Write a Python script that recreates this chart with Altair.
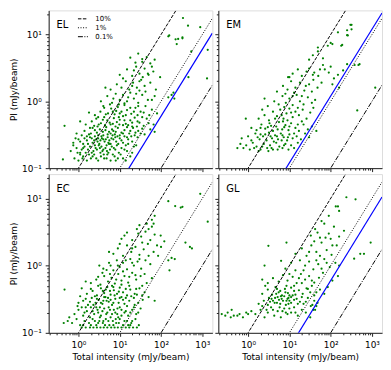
import altair as alt
import pandas as pd

# ---------------- data ----------------
PANELS = ["EL", "EM", "EC", "GL"]

EL_PTS = [
    (0.42,0.135),(0.8,0.14),(1.0,0.13),(1.3,0.15),(1.6,0.13),(2.0,0.14),(2.4,0.16),(3.0,0.13),(3.5,0.15),(4.2,0.14),
    (5.0,0.16),(6.0,0.13),(7.5,0.15),(9.0,0.14),(12,0.14),(14,0.13),(18,0.15),(1.1,0.16),(2.7,0.14),
    (0.65,0.18),(0.9,0.2),(1.1,0.17),(1.4,0.21),(1.7,0.19),(2.1,0.17),(2.6,0.2),(3.1,0.22),(3.8,0.18),(4.5,0.2),
    (5.3,0.17),(6.4,0.21),(7.8,0.19),(9.5,0.17),(11,0.2),(15,0.18),(22,0.21),(1.2,0.19),(2.3,0.18),(3.4,0.17),
    (5.8,0.19),(8.5,0.22),(0.75,0.22),(1.9,0.21),(4.0,0.19),
    (0.75,0.24),(1.0,0.27),(1.3,0.23),(1.6,0.26),(1.9,0.29),(2.2,0.24),(2.7,0.27),(3.2,0.23),(3.7,0.28),(4.3,0.25),
    (5.1,0.29),(6.0,0.23),(7.0,0.27),(8.2,0.25),(10,0.28),(12,0.24),(16,0.27),(20,0.25),(27,0.29),(2.5,0.3),
    (4.8,0.22),(13,0.3),(1.1,0.25),(2.9,0.25),(5.6,0.26),(9.2,0.23),
    (0.9,0.33),(1.4,0.36),(1.8,0.32),(2.2,0.4),(2.8,0.34),(3.3,0.38),(4.0,0.31),(4.7,0.41),(5.5,0.35),(6.5,0.38),
    (7.6,0.32),(9.0,0.4),(11,0.34),(13,0.37),(17,0.33),(21,0.4),(28,0.36),(40,0.32),(55,0.38),(3.6,0.3),
    (8.0,0.35),(0.46,0.43),(1.2,0.31),(2.5,0.37),(6.0,0.33),(15,0.41),(35,0.39),(70,0.35),
    (1.5,0.45),(2.1,0.5),(2.7,0.55),(3.5,0.47),(4.2,0.58),(5.0,0.52),(6.0,0.45),(7.2,0.56),(8.5,0.49),(10,0.53),
    (12,0.6),(14,0.46),(18,0.52),(23,0.57),(30,0.48),(45,0.55),(66,0.45),(2.4,0.43),(1.1,0.5),(3.9,0.53),
    (16,0.44),(38,0.43),(9.5,0.58),
    (2.5,0.62),(3.4,0.7),(4.0,0.85),(5.2,0.66),(6.2,0.78),(7.5,0.64),(9.0,0.82),(11,0.7),(13,0.88),(15,0.74),
    (19,0.65),(24,0.8),(32,0.7),(42,0.85),(60,0.75),(1.8,0.68),(5.8,0.9),(8.2,0.72),(27,0.62),(80,0.66),
    (3.5,1.0),(5.0,1.2),(6.5,0.95),(8.0,1.3),(10,1.05),(12,1.25),(15,1.0),(18,1.35),(22,1.1),(28,0.95),
    (35,1.25),(48,1.05),(70,1.2),(150,1.15),(180,1.25),(210,1.1),(200,1.35),(13,0.93),
    (6.0,1.5),(8.5,1.8),(11,1.6),(14,2.0),(17,1.5),(21,1.9),(26,1.6),(33,2.1),(40,1.7),(55,1.9),
    (75,1.5),(4.5,1.6),(12,2.2),(30,1.45),
    (10,2.5),(15,3.0),(20,2.4),(25,3.3),(30,2.6),(40,3.1),(50,2.5),(65,2.8),(95,2.3),(460,2.3),(1300,2.2),(36,2.3),
    (18,4.5),(28,5.2),(35,3.9),(45,4.6),(55,3.7),(24,3.8),(70,4.2),(540,5.6),(1350,5.9),
    (150,9.4),(225,8.5),(240,7.2),(330,8.8),(340,17.7),(450,13.6),(890,12.9),(158,9.7),(260,8.6),(330,9.1),
    (1.5,0.17),(2.8,0.19),(3.6,0.21),(4.9,0.18),(6.8,0.16),(1.7,0.23),(2.4,0.26),(3.4,0.26),(4.6,0.27),(6.3,0.28),
    (7.8,0.29),(11,0.26),(14,0.22),(1.6,0.3),(2.0,0.33),(3.0,0.31),(3.9,0.35),(5.1,0.32),(7.0,0.36),(10,0.31),
    (12,0.44),(2.9,0.42),(4.4,0.44),(5.7,0.48),(7.9,0.42),(0.85,0.28),(0.95,0.17),(1.25,0.14),(2.2,0.15),(4.8,0.14),
    (8.0,0.13),(24,0.34),(19,0.3),(20,0.48),(26,0.42),
    (1.3,0.2),(1.8,0.16),(2.5,0.22),(3.3,0.2),(4.1,0.16),(5.5,0.23),(7.2,0.2),(10.5,0.16),(13,0.19),(16,0.23),
    (20,0.17),(25,0.22),(1.4,0.28),(2.1,0.28),(3.0,0.28),(4.0,0.27),(5.3,0.24),(6.7,0.31),(8.8,0.3),(12,0.33),
    (15,0.29),(18,0.36),(23,0.31),(32,0.33),(1.9,0.4),(3.1,0.45),(4.5,0.37),(6.8,0.46),(9.8,0.45),(13,0.52),
    (20,0.42),(27,0.5),(35,0.58),(50,0.47),(3.0,0.58),(4.6,0.64),(6.8,0.7),(10,0.66),(14,0.62),(18,0.8),
    (22,0.7),(28,0.85),(38,0.68),(52,0.62),(4.2,0.8),(7,1.1),(9.5,0.9),(16,1.15),(25,1.3),(42,1.4),
    (60,1.05),(20,1.7),(30,2.0),(48,2.6),(22,2.9),(35,4.3),(60,3.3),
]

EM_PTS = [
    (0.55,0.2),(0.77,0.2),(0.9,0.22),(1.1,0.19),(1.3,0.24),(1.6,0.21),(2.0,0.19),(2.4,0.23),(2.9,0.2),(3.4,0.22),
    (4.0,0.19),(4.8,0.24),(5.7,0.21),(6.8,0.2),(8.0,0.23),(9.5,0.19),(11,0.22),(13,0.2),(16,0.24),(1.8,0.18),
    (3.1,0.18),(0.65,0.23),
    (0.7,0.28),(1.0,0.3),(1.2,0.26),(1.5,0.33),(1.9,0.27),(2.3,0.3),(2.8,0.26),(3.2,0.34),(3.8,0.28),(4.5,0.31),
    (5.3,0.27),(6.2,0.33),(7.3,0.29),(8.8,0.26),(10,0.32),(12,0.28),(15,0.3),(19,0.27),(24,0.33),(30,0.29),
    (2.0,0.32),(4.2,0.25),(6.5,0.26),
    (1.2,0.4),(1.6,0.37),(2.1,0.45),(2.6,0.39),(3.3,0.47),(4.0,0.36),(4.8,0.42),(5.6,0.49),(6.7,0.38),(8.0,0.44),
    (9.5,0.37),(11,0.47),(14,0.4),(17,0.36),(22,0.45),(28,0.38),(35,0.42),(45,0.36),(0.88,0.55),(3.0,0.41),(7.0,0.5),
    (1.8,0.55),(2.5,0.62),(3.2,0.52),(4.0,0.7),(5.0,0.6),(6.0,0.75),(7.2,0.55),(8.5,0.66),(10,0.78),(12,0.58),
    (14,0.7),(17,0.62),(21,0.75),(26,0.55),(32,0.68),(38,0.8),(440,0.73),(2.2,0.75),(9.0,0.52),
    (3.0,0.85),(4.3,1.0),(5.5,0.9),(6.8,1.2),(8.2,0.95),(10,1.1),(12,0.88),(15,1.25),(18,1.0),(22,0.9),
    (28,1.15),(35,0.95),(42,1.05),(2.5,1.1),(7.5,0.82),
    (5,1.4),(7,1.7),(9,1.5),(11,2.0),(14,1.6),(18,1.9),(23,1.45),(30,1.8),(38,2.1),(48,1.6),
    (60,1.9),(110,1.8),(160,1.6),(1200,1.6),(13,1.35),
    (9.3,2.3),(10,2.3),(12,2.6),(16,3.0),(20,2.4),(26,2.8),(37,2.5),(50,2.4),(65,3.5),(72,3.0),
    (90,2.7),(120,2.2),(150,2.5),(250,3.6),(380,3.5),(470,3.5),(500,3.6),(200,2.9),(100,3.3),
    (37,4.9),(49,6.4),(85,6.8),(100,7.5),(180,6.8),(190,7.0),(110,7.2),(49,5.6),(65,4.4),(30,4.2),
    (250,9.8),(250,11.6),(300,14),(320,14),(320,12),(260,9.7),(150,10.8),
    (1.4,0.2),(2.2,0.21),(3.7,0.2),(5.2,0.19),(7.4,0.22),(1.7,0.29),(2.6,0.32),(3.5,0.3),(5.0,0.3),(6.8,0.31),
    (9.2,0.29),(13,0.33),(2.0,0.4),(3.6,0.43),(5.2,0.38),(7.5,0.41),(10,0.42),(16,0.45),(20,0.5),(4.5,0.55),
    (6.5,0.62),(11,0.68),(16,0.8),(8,1.3),(12,1.2),(20,1.2),(25,1.7),(35,1.4),(40,2.7),(55,3.0),(30,3.1),
]

EC_PTS = [
    (1.2,0.12),(1.5,0.12),(1.9,0.12),(2.3,0.12),(2.8,0.12),(3.4,0.12),(4.1,0.12),(5.0,0.12),(6.2,0.12),(7.5,0.12),
    (9.0,0.12),(11,0.12),(14,0.12),(17,0.12),(21,0.12),(26,0.12),(0.44,0.14),(0.55,0.15),
    (0.7,0.14),(0.9,0.16),(1.1,0.13),(1.4,0.15),(1.8,0.14),(2.2,0.16),(2.7,0.13),(3.2,0.15),(3.9,0.14),(4.6,0.16),
    (5.6,0.13),(6.8,0.15),(8.2,0.14),(10,0.16),(12,0.13),(15,0.15),(19,0.14),(24,0.16),(29,0.13),
    (0.8,0.19),(1.0,0.22),(1.3,0.18),(1.6,0.21),(2.0,0.24),(2.4,0.19),(2.9,0.22),(3.5,0.18),(4.2,0.23),(5.0,0.2),
    (6.0,0.17),(7.2,0.22),(8.7,0.19),(10,0.24),(13,0.2),(16,0.18),(20,0.22),(25,0.19),(32,0.23),(1.2,0.24),
    (3.0,0.2),(5.4,0.24),(9.2,0.17),
    (1.0,0.28),(1.3,0.3),(1.7,0.26),(2.1,0.33),(2.6,0.28),(3.1,0.31),(3.8,0.27),(4.5,0.34),(5.4,0.29),(6.5,0.26),
    (7.8,0.32),(9.4,0.28),(11,0.34),(13,0.27),(17,0.3),(22,0.33),(28,0.28),(36,0.31),(50,0.34),(70,0.3),
    (2.3,0.26),(4.8,0.3),
    (1.6,0.38),(2.2,0.42),(2.8,0.36),(3.5,0.46),(4.2,0.39),(5.0,0.48),(6.0,0.37),(7.2,0.43),(8.6,0.38),(10,0.47),
    (12,0.4),(15,0.36),(18,0.44),(23,0.38),(30,0.46),(40,0.4),(0.46,0.44),(1.2,0.46),(6.5,0.5),
    (2.0,0.55),(2.7,0.62),(3.4,0.52),(4.2,0.7),(5.2,0.58),(6.3,0.66),(7.6,0.54),(9.2,0.75),(11,0.6),(13,0.7),
    (16,0.56),(20,0.78),(25,0.62),(32,0.7),(45,0.55),(60,0.65),(1.5,0.58),(3.8,0.78),(160,0.85),
    (4.0,0.9),(5.5,1.1),(7.0,0.85),(8.5,1.2),(10,0.95),(12,1.1),(15,0.88),(18,1.25),(22,1.0),(27,1.15),
    (33,0.9),(42,1.2),(55,1.05),(150,1.2),(180,1.3),(215,1.25),(3.2,1.0),(4.8,0.86),
    (7,1.5),(9,1.8),(12,1.4),(15,2.0),(19,1.6),(24,1.9),(30,1.45),(38,1.75),(48,2.1),(66,1.6),
    (85,1.4),(100,1.9),(390,2.2),(500,1.9),(560,1.8),(5.5,1.6),(10,2.1),
    (11,2.5),(15,3.1),(20,2.4),(26,3.5),(33,2.7),(42,3.2),(55,2.4),(70,2.9),(98,2.8),(120,2.3),
    (45,4.2),(30,4.0),(60,3.8),(1350,4.5),(13,2.8),(66,4.2),(60,4.8),
    (150,9.1),(220,7.7),(300,7.3),(330,7.5),(890,11.7),(70,5.5),
    (1.4,0.2),(1.9,0.17),(2.5,0.15),(3.3,0.17),(4.4,0.13),(6.5,0.19),(8.0,0.16),(11,0.18),(1.9,0.29),(3.3,0.24),
    (4.0,0.3),(6.0,0.31),(7.0,0.28),(8.8,0.23),(12,0.31),(15,0.25),(2.5,0.35),(3.9,0.42),(9.5,0.41),(14,0.45),
    (5.8,0.42),(1.1,0.35),(0.95,0.25),(18,0.13),(23,0.26),(0.6,0.17),
    (1.3,0.13),(2.0,0.13),(3.0,0.14),(4.0,0.15),(5.3,0.15),(7.0,0.13),(9.5,0.14),(13,0.15),(16,0.13),(20,0.15),
    (1.5,0.24),(2.2,0.21),(2.7,0.24),(3.8,0.21),(4.7,0.19),(5.8,0.22),(7.8,0.2),(11,0.22),(14,0.21),(18,0.2),
    (22,0.24),(28,0.2),(1.5,0.32),(2.8,0.32),(3.5,0.28),(4.2,0.34),(5.2,0.33),(7.5,0.36),(10,0.33),(14,0.33),
    (19,0.35),(26,0.37),(35,0.36),(2.0,0.45),(3.0,0.5),(4.6,0.44),(7.0,0.48),(11,0.52),(17,0.5),(25,0.45),
    (35,0.5),(3.0,0.68),(5.8,0.75),(8.2,0.62),(12,0.82),(17,0.68),(24,0.72),(40,0.75),(6,1.0),(9,1.0),
    (14,1.2),(20,1.1),(30,1.25),(50,1.4),(20,1.8),(35,2.2),(28,3.0),(50,3.5),(80,2.0),
]

GL_PTS = [
    (0.23,0.19),(0.28,0.18),(0.32,0.2),(0.38,0.17),(0.4,0.22),(0.45,0.18),(0.55,0.18),(0.62,0.19),(0.9,0.2),(1.0,0.19),
    (0.75,0.17),(1.2,0.21),
    (1.5,0.19),(2.0,0.22),(2.5,0.17),(3.0,0.2),(3.6,0.24),(4.3,0.18),(5.2,0.21),(6.2,0.17),(7.5,0.23),(9.0,0.19),
    (11,0.2),(13,0.24),(16,0.18),(20,0.22),(25,0.2),(32,0.17),(2.2,0.25),(5.8,0.24),
    (1.8,0.27),(2.4,0.3),(3.0,0.26),(3.7,0.32),(4.4,0.28),(5.2,0.34),(6.0,0.27),(7.0,0.3),(8.2,0.26),(9.5,0.33),
    (11,0.28),(13,0.31),(16,0.27),(20,0.34),(25,0.29),(33,0.25),(40,0.3),(48,0.28),(3.4,0.29),(5.6,0.31),(10,0.3),
    (2.2,0.38),(3.0,0.44),(3.8,0.37),(4.6,0.48),(5.5,0.4),(6.6,0.36),(7.8,0.45),(9.2,0.39),(11,0.47),(14,0.37),
    (17,0.43),(21,0.38),(26,0.46),(32,0.4),(40,0.36),(55,0.44),(70,0.38),(85,0.48),(2.6,0.5),
    (3.0,0.55),(4.0,0.65),(5.5,0.58),(7.0,0.72),(9.0,0.6),(12,0.68),(15,0.55),(19,0.75),(24,0.62),(30,0.7),
    (40,0.56),(52,0.66),(65,0.78),(110,0.6),(150,0.7),(2.2,0.62),
    (2.5,1.0),(6.3,1.18),(8,0.9),(11,1.1),(14,0.85),(18,1.2),(24,1.0),(30,1.15),(38,0.88),(50,1.05),
    (70,1.25),(95,0.95),(130,1.1),(370,1.27),(160,1.0),
    (3.1,1.97),(8.5,2.2),(14,1.5),(20,1.8),(26,1.4),(34,2.0),(45,1.6),(60,2.2),(80,1.7),(105,1.45),
    (140,2.0),(520,1.5),(640,1.5),(930,2.2),(40,2.3),
    (33,2.8),(42,3.5),(55,2.6),(70,4.2),(90,3.0),(120,3.8),(160,2.7),(210,3.3),(60,4.6),(100,2.5),(48,3.1),
    (133,7.6),(150,7.6),(160,6.5),(240,10.4),(400,9.7),(90,5.5),
    (42,0.22),(36,0.26),(45,0.25),(38,0.22),
    (4,0.3),(5,0.28),(6.5,0.32),(7.5,0.35),(8.5,0.3),(9.5,0.27),(12,0.36),(4.8,0.38),(6,0.42),(8,0.4),(10,0.36),(13,0.42),
    (2.8,0.22),(4.0,0.22),(6.8,0.21),(8.2,0.2),(10,0.23),(14,0.2),(3.2,0.33),(4.5,0.33),(6.2,0.35),(9,0.32),
    (11,0.34),(15,0.32),(18,0.29),(22,0.27),(28,0.33),(5,0.45),(8.5,0.5),(13,0.5),(20,0.55),(28,0.45),
    (35,0.5),(45,0.4),(10,0.75),(17,0.65),(22,0.85),(35,0.6),(45,1.2),(60,0.9),(80,1.1),(30,1.6),
    (55,1.4),(75,2.6),(110,2.0),
]

POINTS = {"EL": EL_PTS, "EM": EM_PTS, "EC": EC_PTS, "GL": GL_PTS}

# reference lines PI = ratio * I
LINE_LABELS = ["10%", "1%", "0.1%"]
LINE_RATIOS = [0.1, 0.01, 0.001]
LINE_DASHES = [[3.5, 1.5], [1, 1.6], [5, 1.5, 1, 1.5]]
# blue fitted line ratio per panel (none in EC)
BLUE_RATIO = {"EL": 0.006, "EM": 0.012, "GL": 0.006}

X_DOMAIN = [0.19, 1750]
Y_DOMAIN = [0.1, 23]
X_TICKS = [0.2, 0.3, 0.4, 0.5, 0.6, 0.7, 0.8, 0.9,
           1, 2, 3, 4, 5, 6, 7, 8, 9,
           10, 20, 30, 40, 50, 60, 70, 80, 90,
           100, 200, 300, 400, 500, 600, 700, 800, 900, 1000]
Y_TICKS = [0.1, 0.2, 0.3, 0.4, 0.5, 0.6, 0.7, 0.8, 0.9,
           1, 2, 3, 4, 5, 6, 7, 8, 9, 10, 20]

X_TITLE = "Total intensity (mJy/beam)"
Y_TITLE = "PI (mJy/beam)"

FONT = "DejaVu Sans"
W, H = 165, 159
H2 = 160

LABEL_EXPR = ("datum.value == 0.1 ? '10⁻¹' : datum.value == 1 ? '10⁰' : "
              "datum.value == 10 ? '10¹' : datum.value == 100 ? '10²' : "
              "datum.value == 1000 ? '10³' : ''")
MAJOR_TEST = "abs(log(datum.value)/LN10 - round(log(datum.value)/LN10)) < 0.001"
TICK_SIZE = {"condition": {"test": MAJOR_TEST, "value": 3.5}, "value": 2}


def make_axis(ticks, show_labels, title, is_x):
    kw = dict(values=ticks, grid=False, tickSize=TICK_SIZE, tickColor="#222",
              domainColor="#222", labelOverlap=False, labelFlush=False,
              labelFont=FONT, labelFontSize=9, labelColor="black",
              titleFont=FONT, titleFontSize=9, titleFontWeight="normal", titleColor="black")
    if show_labels:
        kw.update(labelExpr=LABEL_EXPR, labelPadding=4 if is_x else 4, title=title,
                  titlePadding=3 if is_x else 3)
    else:
        kw.update(labels=False, title=None)
    return alt.Axis(**kw)


def panel(name, show_x, show_y, h):
    xenc = alt.X("x:Q", scale=alt.Scale(type="log", domain=X_DOMAIN, nice=False),
                 axis=make_axis(X_TICKS, show_x, X_TITLE, True))
    yenc = alt.Y("y:Q", scale=alt.Scale(type="log", domain=Y_DOMAIN, nice=False),
                 axis=make_axis(Y_TICKS, show_y, Y_TITLE, False))

    pts = pd.DataFrame(POINTS[name], columns=["x", "y"])
    layers = []
    layers.append(alt.Chart(pts).mark_circle(size=5, color="#008000", opacity=1).encode(x=xenc, y=yenc))

    rows = []
    for lab, r in zip(LINE_LABELS, LINE_RATIOS):
        for xv in X_DOMAIN:
            rows.append({"lab": lab, "x": xv, "y": r * xv})
    ref = pd.DataFrame(rows)
    if name == "EL":
        layers.append(alt.Chart(ref).mark_line(clip=True, color="black", strokeWidth=1).encode(
            x=xenc, y=yenc,
            strokeDash=alt.StrokeDash("lab:N", scale=alt.Scale(domain=LINE_LABELS, range=LINE_DASHES),
                                      legend=alt.Legend(orient="none", legendX=29, legendY=3, title=None,
                                                        symbolType="stroke", symbolSize=100,
                                                        symbolStrokeWidth=1, symbolStrokeColor="black",
                                                        labelFont=FONT, labelFontSize=7, labelColor="black",
                                                        labelOffset=7, rowPadding=0, padding=0)),
        ))
    else:
        for lab, dash in zip(LINE_LABELS, LINE_DASHES):
            layers.append(alt.Chart(ref[ref["lab"] == lab]).mark_line(
                clip=True, color="black", strokeWidth=1, strokeDash=dash).encode(x=xenc, y=yenc))

    if name in BLUE_RATIO:
        r = BLUE_RATIO[name]
        blue = pd.DataFrame({"x": X_DOMAIN, "y": [r * v for v in X_DOMAIN]})
        layers.append(alt.Chart(blue).mark_line(clip=True, color="#0000ff", strokeWidth=1.2).encode(x=xenc, y=yenc))

    lbl = pd.DataFrame({"name": [name]})
    layers.append(alt.Chart(lbl).mark_text(align="left", baseline="alphabetic", fontSize=10, font=FONT,
                                           color="black").encode(text="name:N", x=alt.value(8), y=alt.value(18)))
    return alt.layer(*layers).properties(width=W, height=h)


chart = alt.concat(
    panel("EL", False, True, H), panel("EM", False, False, H),
    panel("EC", True, True, H2), panel("GL", True, False, H2),
    columns=2, spacing=6, bounds="flush",
).properties(
    padding={"left": 1, "top": 0, "right": 0, "bottom": 0}
).configure_view(stroke="#222", strokeWidth=1).configure(font=FONT)

chart.save("out.html", embed_options={"renderer": "svg", "actions": False})
